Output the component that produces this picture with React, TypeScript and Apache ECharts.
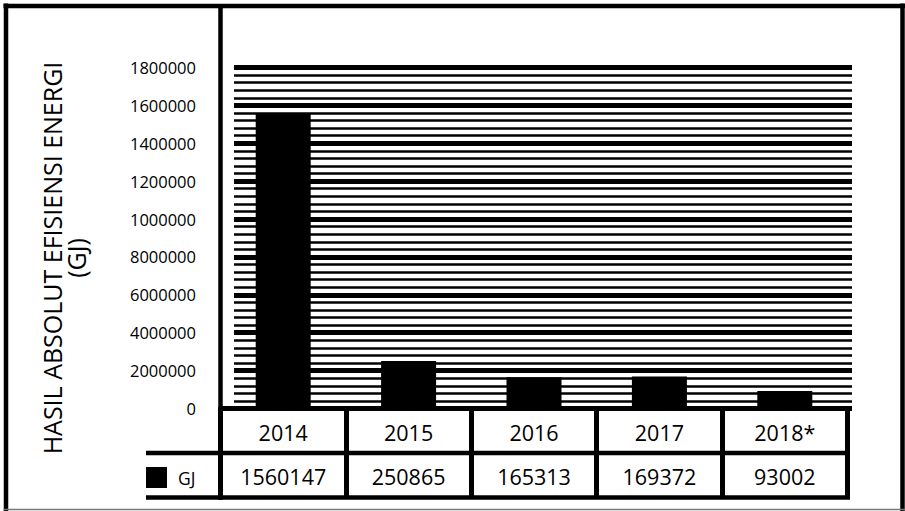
import React, { useEffect, useRef } from "react";
import * as echarts from "echarts";

// Annual absolute energy-efficiency savings (GJ)
const categories = ["2014", "2015", "2016", "2017", "2018*"];
const values = [1560147, 250865, 165313, 169372, 93002];
const seriesName = "GJ";
// Tick labels exactly as printed on the axis
const yTickLabels = [
  "0",
  "2000000",
  "4000000",
  "6000000",
  "8000000",
  "1000000",
  "1200000",
  "1400000",
  "1600000",
  "1800000",
];
const yMax = 1800000;
const yStep = 200000;
const axisTitle = "HASIL ABSOLUT EFISIENSI ENERGI\n(GJ)";

const FONT = "'Open Sans', 'Noto Sans', sans-serif";
const INK = "#000";

export default function App() {
  const ref = useRef<HTMLDivElement>(null);

  useEffect(() => {
    if (!ref.current) return;
    const chart = echarts.init(ref.current, undefined, { renderer: "svg" });

    const line = (x1: number, y1: number, x2: number, y2: number, w: number, c = INK) => ({
      type: "line",
      silent: true,
      z: 10,
      shape: { x1, y1, x2, y2 },
      style: { stroke: c, lineWidth: w },
    });

    chart.setOption({
      animation: false,
      backgroundColor: "#fff",
      textStyle: { fontFamily: FONT, color: INK },
      grid: [
        // striped background + value labels
        { left: 234, right: 53, top: 67.5, bottom: 102.5 },
        // bars
        { left: 220.5, right: 57.5, top: 67.5, bottom: 102.5 },
        // data table below the plot
        { left: 220.5, right: 57.5, top: 408.5, bottom: 13.5 },
      ],
      xAxis: [
        { gridIndex: 0, type: "value", show: false, min: 0, max: 1 },
        {
          gridIndex: 1,
          type: "category",
          data: categories,
          axisLine: { show: true, lineStyle: { color: INK, width: 5 } },
          axisTick: { show: false },
          axisLabel: { show: false },
          z: 5,
        },
        {
          gridIndex: 2,
          type: "category",
          data: categories,
          position: "top",
          axisLine: { show: false },
          axisTick: { show: false },
          axisLabel: {
            inside: true,
            interval: 0,
            margin: 24,
            verticalAlign: "middle",
            fontSize: 21.5,
            color: INK,
            fontFamily: FONT,
          },
          splitLine: {
            show: true,
            interval: 0,
            lineStyle: { color: INK, width: 5 },
          },
        },
        {
          gridIndex: 2,
          type: "category",
          data: values.map((v) => String(v)),
          position: "bottom",
          axisLine: { show: false },
          axisTick: { show: false },
          axisLabel: {
            inside: true,
            interval: 0,
            margin: 21.5,
            verticalAlign: "middle",
            fontSize: 21.5,
            color: INK,
            fontFamily: FONT,
          },
          splitLine: { show: false },
        },
      ],
      yAxis: [
        {
          gridIndex: 0,
          type: "value",
          min: 0,
          max: yMax,
          interval: yStep,
          axisLine: { show: false },
          axisTick: { show: false },
          axisLabel: {
            margin: 38,
            fontSize: 16.5,
            color: INK,
            fontFamily: FONT,
            formatter: (_v: number, i: number) => yTickLabels[i],
          },
          splitLine: { show: true, lineStyle: { color: INK, width: 5 } },
          minorTick: { show: false, splitNumber: 5 },
          minorSplitLine: { show: true, lineStyle: { color: INK, width: 2.5 } },
        },
        { gridIndex: 1, type: "value", min: 0, max: yMax, show: false },
        { gridIndex: 2, type: "value", min: 0, max: 1, show: false },
      ],
      legend: {
        data: [seriesName],
        left: 146,
        top: 467,
        icon: "rect",
        itemWidth: 21,
        itemHeight: 21,
        selectedMode: false,
        padding: 0,
        textStyle: {
          fontSize: 17.5,
          color: INK,
          fontFamily: FONT,
          padding: [0, 0, 0, 6],
        },
      },
      series: [
        {
          name: seriesName,
          type: "bar",
          xAxisIndex: 1,
          yAxisIndex: 1,
          data: values,
          barWidth: 55,
          itemStyle: { color: INK },
        },
      ],
      graphic: [
        // outer frame
        line(3.5, 6, 905, 6, 4.5),
        line(6, 3.5, 6, 511, 4.5),
        line(902.5, 3.5, 902.5, 511, 4.5),
        line(3.5, 509.5, 905, 509.5, 1.5, "#777"),
        // divider between the axis title panel and the plot
        line(220.5, 6, 220.5, 500, 4.5),
        // table row rules
        line(146, 453, 850, 453, 4.5),
        line(146, 497.5, 850, 497.5, 4.5),
        {
          type: "text",
          x: 64,
          y: 258,
          rotation: Math.PI / 2,
          silent: true,
          style: {
            text: axisTitle,
            fontFamily: FONT,
            fontSize: 25,
            lineHeight: 24,
            fill: INK,
            align: "center",
            verticalAlign: "middle",
          },
        },
      ],
    });

    return () => chart.dispose();
  }, []);

  return (
    <div
      ref={ref}
      style={{ position: "fixed", left: 0, top: 0, width: 905, height: 511 }}
    />
  );
}
